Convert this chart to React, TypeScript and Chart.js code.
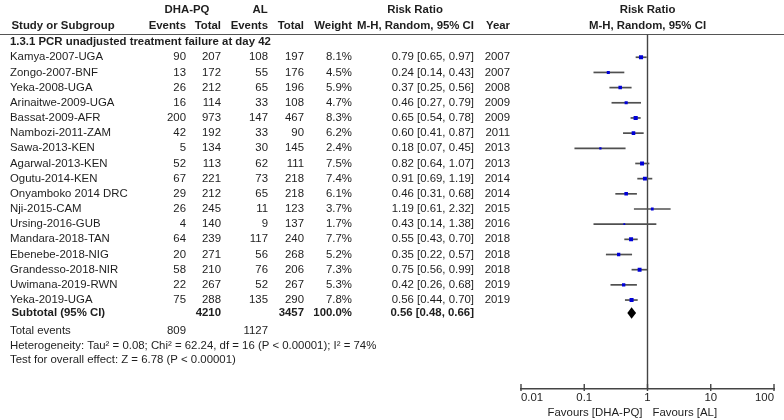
import { useEffect, useRef } from "react";
import { Chart, registerables } from "chart.js";

Chart.register(...registerables);

const studies = [
  "Kamya-2007-UGA", "Zongo-2007-BNF", "Yeka-2008-UGA", "Arinaitwe-2009-UGA",
  "Bassat-2009-AFR", "Nambozi-2011-ZAM", "Sawa-2013-KEN", "Agarwal-2013-KEN",
  "Ogutu-2014-KEN", "Onyamboko 2014 DRC", "Nji-2015-CAM", "Ursing-2016-GUB",
  "Mandara-2018-TAN", "Ebenebe-2018-NIG", "Grandesso-2018-NIR", "Uwimana-2019-RWN",
  "Yeka-2019-UGA",
];
const dhaEvents = [90, 13, 26, 16, 200, 42, 5, 52, 67, 29, 26, 4, 64, 20, 58, 22, 75];
const dhaTotal = [207, 172, 212, 114, 973, 192, 134, 113, 221, 212, 245, 140, 239, 271, 210, 267, 288];
const alEvents = [108, 55, 65, 33, 147, 33, 30, 62, 73, 65, 11, 9, 117, 56, 76, 52, 135];
const alTotal = [197, 176, 196, 108, 467, 90, 145, 111, 218, 218, 123, 137, 240, 268, 206, 267, 290];
const weights = [8.1, 4.5, 5.9, 4.7, 8.3, 6.2, 2.4, 7.5, 7.4, 6.1, 3.7, 1.7, 7.7, 5.2, 7.3, 5.3, 7.8];
const riskRatio = [0.79, 0.24, 0.37, 0.46, 0.65, 0.60, 0.18, 0.82, 0.91, 0.46, 1.19, 0.43, 0.55, 0.35, 0.75, 0.42, 0.56];
const ciLow = [0.65, 0.14, 0.25, 0.27, 0.54, 0.41, 0.07, 0.64, 0.69, 0.31, 0.61, 0.14, 0.43, 0.22, 0.56, 0.26, 0.44];
const ciHigh = [0.97, 0.43, 0.56, 0.79, 0.78, 0.87, 0.45, 1.07, 1.19, 0.68, 2.32, 1.38, 0.70, 0.57, 0.99, 0.68, 0.70];
const years = [2007, 2007, 2008, 2009, 2009, 2011, 2013, 2013, 2014, 2014, 2015, 2016, 2018, 2018, 2018, 2019, 2019];

const subtotalRR = 0.56;
const subtotalLow = 0.48;
const subtotalHigh = 0.66;
const subtotalDhaTotal = 4210;
const subtotalAlTotal = 3457;
const subtotalWeight = "100.0%";
const totalDhaEvents = 809;
const totalAlEvents = 1127;

const subgroupTitle = "1.3.1 PCR unadjusted treatment failure at day 42";
const heterogeneityText = "Heterogeneity: Tau\u00B2 = 0.08; Chi\u00B2 = 62.24, df = 16 (P < 0.00001); I\u00B2 = 74%";
const overallEffectText = "Test for overall effect: Z = 6.78 (P < 0.00001)";

const tickValues = [0.01, 0.1, 1, 10, 100];
const tickLabels = ["0.01", "0.1", "1", "10", "100"];
const favoursLeft = "Favours [DHA-PQ]";
const favoursRight = "Favours [AL]";

const FONT = '"Liberation Sans", Arial, sans-serif';
const FS = 11.4;
const TEXT = "#1e1e1e";

export default function App() {
  const ref = useRef<HTMLCanvasElement>(null);

  useEffect(() => {
    const canvas = ref.current;
    if (!canvas) return;

    const fmt = (v: number) => v.toFixed(2);

    const forestPlugin = {
      id: "forest",
      beforeDatasetsDraw(chart: any) {
        const { ctx, scales } = chart;
        const xs = scales.x;
        const ys = scales.y;
        ctx.save();
        // header rule
        const ruleY = Math.round(ys.getPixelForValue(-1.5)) + 0.5;
        ctx.strokeStyle = "#555";
        ctx.lineWidth = 1;
        ctx.beginPath();
        ctx.moveTo(0, ruleY);
        ctx.lineTo(784, ruleY);
        ctx.stroke();
        // line of no effect
        const x1 = xs.getPixelForValue(1);
        ctx.strokeStyle = "#444";
        ctx.lineWidth = 1.4;
        ctx.beginPath();
        ctx.moveTo(x1, ruleY);
        ctx.lineTo(x1, chart.chartArea.bottom);
        ctx.stroke();
        // confidence intervals
        ctx.strokeStyle = "#505050";
        ctx.lineWidth = 1.7;
        for (let i = 0; i < riskRatio.length; i++) {
          const y = ys.getPixelForValue(i);
          ctx.beginPath();
          ctx.moveTo(xs.getPixelForValue(ciLow[i]), y);
          ctx.lineTo(xs.getPixelForValue(ciHigh[i]), y);
          ctx.stroke();
        }
        ctx.restore();
      },
      afterDatasetsDraw(chart: any) {
        const { ctx, scales } = chart;
        const xs = scales.x;
        const ys = scales.y;
        ctx.save();
        // diamond
        const dy = ys.getPixelForValue(16.85);
        ctx.fillStyle = "#000";
        ctx.beginPath();
        ctx.moveTo(xs.getPixelForValue(subtotalLow), dy);
        ctx.lineTo(xs.getPixelForValue(subtotalRR), dy - 5.8);
        ctx.lineTo(xs.getPixelForValue(subtotalHigh), dy);
        ctx.lineTo(xs.getPixelForValue(subtotalRR), dy + 5.8);
        ctx.closePath();
        ctx.fill();

        const reg = `${FS}px ${FONT}`;
        const bold = `bold ${FS}px ${FONT}`;
        ctx.fillStyle = TEXT;
        ctx.textBaseline = "middle";
        const put = (t: string, x: number, row: number, align: CanvasTextAlign, b = false) => {
          ctx.font = b ? bold : reg;
          ctx.textAlign = align;
          ctx.fillText(t, x, ys.getPixelForValue(row));
        };
        const xOne = xs.getPixelForValue(1);

        // headers
        put("DHA-PQ", 187, -3.1, "center", true);
        put("AL", 260, -3.1, "center", true);
        put("Risk Ratio", 415, -3.1, "center", true);
        put("Risk Ratio", xOne, -3.1, "center", true);
        put("Study or Subgroup", 11.5, -2.08, "left", true);
        put("Events", 186, -2.08, "right", true);
        put("Total", 221, -2.08, "right", true);
        put("Events", 268, -2.08, "right", true);
        put("Total", 304, -2.08, "right", true);
        put("Weight", 352, -2.08, "right", true);
        put("M-H, Random, 95% CI", 474, -2.08, "right", true);
        put("Year", 510, -2.08, "right", true);
        put("M-H, Random, 95% CI", xOne, -2.08, "center", true);
        put(subgroupTitle, 10, -1.0, "left", true);

        for (let i = 0; i < studies.length; i++) {
          put(studies[i], 10, i, "left");
          put(String(dhaEvents[i]), 186, i, "right");
          put(String(dhaTotal[i]), 221, i, "right");
          put(String(alEvents[i]), 268, i, "right");
          put(String(alTotal[i]), 304, i, "right");
          put(weights[i].toFixed(1) + "%", 352, i, "right");
          put(`${fmt(riskRatio[i])} [${fmt(ciLow[i])}, ${fmt(ciHigh[i])}]`, 474, i, "right");
          put(String(years[i]), 510, i, "right");
        }

        put("Subtotal (95% CI)", 11.5, 16.85, "left", true);
        put(String(subtotalDhaTotal), 221, 16.85, "right", true);
        put(String(subtotalAlTotal), 304, 16.85, "right", true);
        put(subtotalWeight, 352, 16.85, "right", true);
        put(`${fmt(subtotalRR)} [${fmt(subtotalLow)}, ${fmt(subtotalHigh)}]`, 474, 16.85, "right", true);

        put("Total events", 10, 18.0, "left");
        put(String(totalDhaEvents), 186, 18.0, "right");
        put(String(totalAlEvents), 268, 18.0, "right");
        put(heterogeneityText, 10, 19.04, "left");
        put(overallEffectText, 10, 19.97, "left");
        ctx.restore();
      },
      afterDraw(chart: any) {
        const { ctx, scales } = chart;
        const xs = scales.x;
        const axisY = chart.chartArea.bottom;
        ctx.save();
        ctx.strokeStyle = "#444";
        ctx.lineWidth = 1.4;
        for (const v of tickValues) {
          const x = xs.getPixelForValue(v);
          ctx.beginPath();
          ctx.moveTo(x, axisY - 4.5);
          ctx.lineTo(x, axisY + 2.5);
          ctx.stroke();
        }
        ctx.fillStyle = TEXT;
        ctx.font = `${FS}px ${FONT}`;
        ctx.textBaseline = "middle";
        const x1 = xs.getPixelForValue(1);
        ctx.textAlign = "right";
        ctx.fillText(favoursLeft, x1 - 5, 412.5);
        ctx.textAlign = "left";
        ctx.fillText(favoursRight, x1 + 5, 412.5);
        ctx.restore();
      },
    };

    const chart = new Chart(canvas, {
      type: "scatter",
      data: {
        datasets: [
          {
            label: "Risk ratio",
            data: riskRatio.map((v, i) => ({ x: v, y: i })),
            pointStyle: "rect",
            pointRadius: weights.map((w) => 1.02 * Math.sqrt(w)),
            pointBackgroundColor: "#0000d8",
            pointBorderWidth: 0,
            showLine: false,
          },
        ],
      },
      options: {
        responsive: false,
        animation: false,
        events: [],
        layout: { padding: { left: 521, right: 10, top: 0, bottom: 0 } },
        plugins: {
          legend: { display: false },
          tooltip: { enabled: false },
          title: { display: false },
        },
        scales: {
          x: {
            type: "logarithmic",
            min: 0.01,
            max: 100,
            afterBuildTicks: (scale: any) => {
              scale.ticks = tickValues.map((v) => ({ value: v }));
            },
            afterFit: (scale: any) => {
              scale.height = 31.5;
              scale.paddingLeft = 0;
              scale.paddingRight = 0;
            },
            grid: { display: false, drawTicks: false },
            border: { display: true, color: "#444", width: 1.4 },
            ticks: {
              autoSkip: false,
              maxRotation: 0,
              align: "inner",
              padding: 3,
              color: TEXT,
              font: { family: FONT, size: FS },
              callback: (value: any) => {
                const idx = tickValues.findIndex((t) => Math.abs(t - Number(value)) < 1e-9);
                return idx >= 0 ? tickLabels[idx] : "";
              },
            },
          },
          y: {
            type: "linear",
            min: -3.51,
            max: 21.83,
            reverse: true,
            display: false,
          },
        },
      },
      plugins: [forestPlugin],
    } as any);

    return () => chart.destroy();
  }, []);

  return (
    <div style={{ position: "absolute", left: 0, top: 0, width: 784, height: 420, background: "#fff" }}>
      <canvas ref={ref} width={784} height={420} style={{ display: "block", width: 784, height: 420 }} />
    </div>
  );
}
